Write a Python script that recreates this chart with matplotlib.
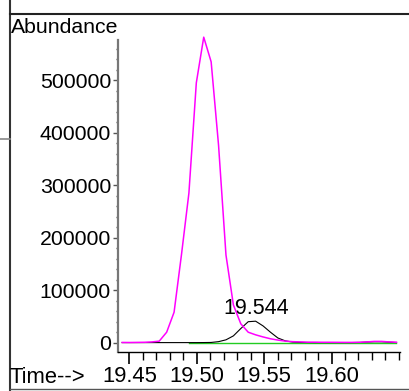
import matplotlib
matplotlib.use("Agg")
import matplotlib.pyplot as plt
from matplotlib.lines import Line2D
from matplotlib.ticker import MultipleLocator
import numpy as np

plt.rcParams['font.family'] = ['Liberation Sans', 'DejaVu Sans']

# scan times (constant scan rate) and ion abundances
t_start = 19.4447
scan_dt = 0.0055
n_scans = 38
times = np.round(t_start + scan_dt * np.arange(n_scans), 4)

tic = [500, 400, 600, 800, 1500, 3000, 20000, 58000, 168000, 285000,
       495000, 582000, 535000, 376000, 167000, 72000, 36000, 20000, 15000, 11000,
       7500, 5000, 3000, 2000, 1500, 1000, 1000, 800, 800, 700,
       600, 600, 800, 1500, 2500, 2500, 1500, 800]

ion = [200, 200, 200, 200, 200, 200, 200, 200, 200, 200,
       200, 300, 500, 2000, 5500, 13000, 27000, 40000, 41000, 32000,
       20000, 9000, 3500, 1200, 600, 400, 300, 300, 300, 300,
       300, 300, 500, 1200, 1800, 1800, 1000, 400]

baseline_t = [times[9], times[-1]]
baseline_y = [0, 0]

peak_rt = 19.544
peak_label = "19.544"

xticks = [19.45, 19.50, 19.55, 19.60]
yticks = [0, 100000, 200000, 300000, 400000, 500000]

W, H = 409, 391
fig = plt.figure(figsize=(W / 100, H / 100), dpi=100)
ax = fig.add_axes([118 / W, 1 - 352 / H, (400 - 118) / W, (352 - 40) / H])

ax.plot(baseline_t, baseline_y, color='#22cc22', lw=1.0, zorder=2)
ax.plot(times, ion, color='black', lw=0.8, zorder=3)
ax.plot(times, tic, color='#ff00ff', lw=1.1, zorder=4, clip_on=False)

ax.set_xlim(19.4416, 19.6508)
ax.set_ylim(-17700, 576600)

ax.set_xticks(xticks)
ax.set_xticklabels([f"{v:.2f}" for v in xticks])
ax.xaxis.set_minor_locator(MultipleLocator(0.01))
ax.set_yticks(yticks)
ax.set_yticklabels([str(v) for v in yticks])
ax.yaxis.set_minor_locator(MultipleLocator(20000))

ax.tick_params(axis='x', which='major', direction='out', length=8.5, width=1.2,
               pad=1.5, labelsize=15.8, color='black')
ax.tick_params(axis='x', which='minor', direction='out', length=5.5, width=1.0,
               color='black')
ax.tick_params(axis='y', which='major', direction='out', length=3.6, width=1.0,
               pad=1.5, labelsize=15.3, color='#555555')
ax.tick_params(axis='y', which='minor', direction='out', length=1.5, width=1.0,
               color='#555555')

for side in ('top', 'right'):
    ax.spines[side].set_visible(False)
ax.spines['left'].set_color('#777777')
ax.spines['left'].set_linewidth(1.6)
ax.spines['bottom'].set_color('black')
ax.spines['bottom'].set_linewidth(1.0)

ax.annotate(peak_label, xy=(peak_rt, 42000), xytext=(0, 4.5),
            textcoords='offset points', ha='center', va='baseline', fontsize=15.5)

fig.text(11 / W, 1 - 33 / H, "Abundance", fontsize=15.3, ha='left', va='baseline')
fig.text(10 / W, 1 - 383 / H, "Time-->", fontsize=15.8, ha='left', va='baseline')

# surrounding window frame
def px_line(x0, y0, x1, y1, **kw):
    fig.add_artist(Line2D([x0 / W, x1 / W], [1 - y0 / H, 1 - y1 / H],
                          transform=fig.transFigure, **kw))

px_line(9.5, 0, 9.5, H, color='#333333', lw=1.5)
px_line(9.5, 14, W, 14, color='#222222', lw=1.5)
px_line(9.5, 388.5, W, 388.5, color='#555555', lw=1.0)
px_line(0, 139, 9.5, 139, color='#888888', lw=1.2)

fig.savefig("out.png", dpi=100)
